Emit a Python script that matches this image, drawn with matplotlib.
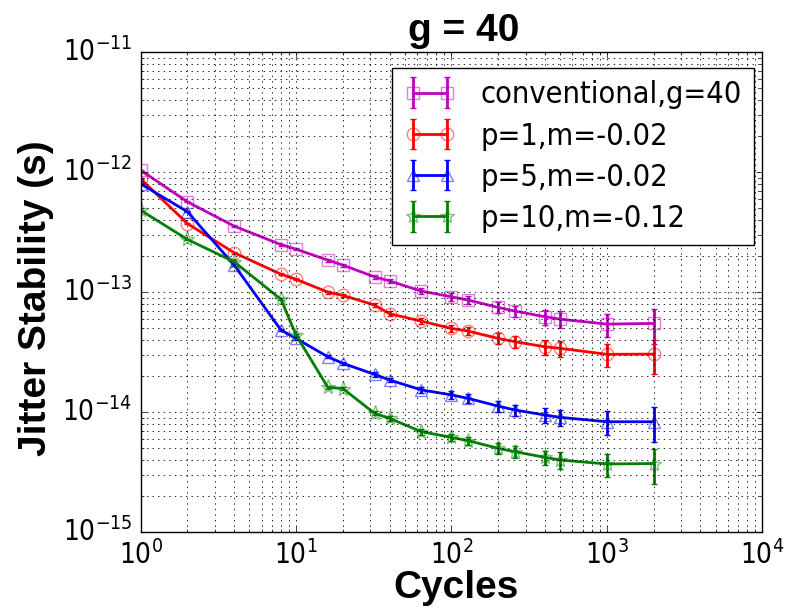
import matplotlib
matplotlib.use('Agg')
import matplotlib.pyplot as plt

# cycles (averaging window) on the x axis
cycles = [1, 2, 4, 8, 10, 16, 20, 32, 40, 64, 100, 128, 200, 256, 400, 500, 1000, 2000]

# jitter stability (s) for each case
conventional = [1.04e-12, 5.66e-13, 3.55e-13, 2.49e-13, 2.28e-13, 1.85e-13, 1.68e-13, 1.34e-13, 1.24e-13,
                1.02e-13, 9.14e-14, 8.58e-14, 7.45e-14, 6.95e-14, 6.23e-14, 5.95e-14, 5.41e-14, 5.48e-14]
p1 = [8.8e-13, 3.73e-13, 2.13e-13, 1.41e-13, 1.28e-13, 1.0e-13, 9.4e-14, 7.8e-14, 6.6e-14,
      5.73e-14, 4.98e-14, 4.73e-14, 4.11e-14, 3.86e-14, 3.5e-14, 3.4e-14, 3.03e-14, 3.04e-14]
p5 = [8.0e-13, 4.68e-13, 1.68e-13, 4.82e-14, 4.11e-14, 2.89e-14, 2.55e-14, 2.06e-14, 1.85e-14,
      1.53e-14, 1.39e-14, 1.30e-14, 1.12e-14, 1.04e-14, 9.44e-15, 9.03e-15, 8.3e-15, 8.3e-15]
p10 = [4.82e-13, 2.75e-13, 1.79e-13, 8.7e-14, 4.38e-14, 1.61e-14, 1.57e-14, 9.75e-15, 8.86e-15,
       6.86e-15, 6.15e-15, 5.77e-15, 4.98e-15, 4.67e-15, 4.19e-15, 3.98e-15, 3.69e-15, 3.72e-15]

# relative size of the error bars (same for every curve)
rel_err = [0.01, 0.01, 0.015, 0.02, 0.022, 0.028, 0.03, 0.04, 0.045,
           0.057, 0.07, 0.08, 0.1, 0.11, 0.14, 0.16, 0.22, 0.32]

labels = ['conventional,g=40', 'p=1,m=-0.02', 'p=5,m=-0.02', 'p=10,m=-0.12']
colors = ['#bf00bf', '#ff0000', '#0000ff', '#008000']
fades = [(0.75, 0, 0.75, 0.5), (1, 0, 0, 0.5), (0, 0, 1, 0.5), (0, 0.5, 0, 0.5)]
markers = ['s', 'o', '^', '*']

plt.style.use('classic')
plt.rcParams['axes.unicode_minus'] = False
plt.rcParams['font.family'] = 'DejaVu Sans'
plt.rcParams['font.stretch'] = 'condensed'

fig = plt.figure(figsize=(7.9, 6.15), dpi=100)
fig.patch.set_facecolor('white')
ax = fig.add_axes([0.178, 0.135, 0.787, 0.780])

series = [conventional, p1, p5, p10]
for vals, lab, c, fc, mk in zip(series, labels, colors, fades, markers):
    err = [v * r for v, r in zip(vals, rel_err)]
    ax.errorbar(cycles, vals, yerr=err, color=c, ecolor=c, lw=2, elinewidth=2,
                capsize=2.5, capthick=1.5, marker=mk, ms=11 if mk == '*' else 9,
                mfc='none', mec=fc, mew=1, label=lab)

ax.set_xscale('log')
ax.set_yscale('log')
ax.set_xlim(1, 1e4)
ax.set_ylim(1e-15, 1e-11)
ax.grid(True, which='both', color='k', linestyle=':', linewidth=0.6)
ax.tick_params(labelsize=20)
ax.tick_params(axis='x', pad=6)
ax.tick_params(axis='y', pad=6)

bold = dict(family='Liberation Sans', fontsize=28, fontweight='bold', stretch='normal')
ax.set_xlabel('Cycles', labelpad=0, x=0.508, **bold)
ax.set_ylabel('Jitter Stability (s)', labelpad=6, y=0.4875, **bold)
ax.set_title('g = 40', x=0.52, y=1.01, **bold)

ax.legend(loc='upper right', bbox_to_anchor=(0.987, 0.967), borderaxespad=0,
          fontsize=22, numpoints=2, fancybox=False, handlelength=1.7,
          handletextpad=0.8, labelspacing=0.4)

fig.savefig('out.png', dpi=100, facecolor='white')
